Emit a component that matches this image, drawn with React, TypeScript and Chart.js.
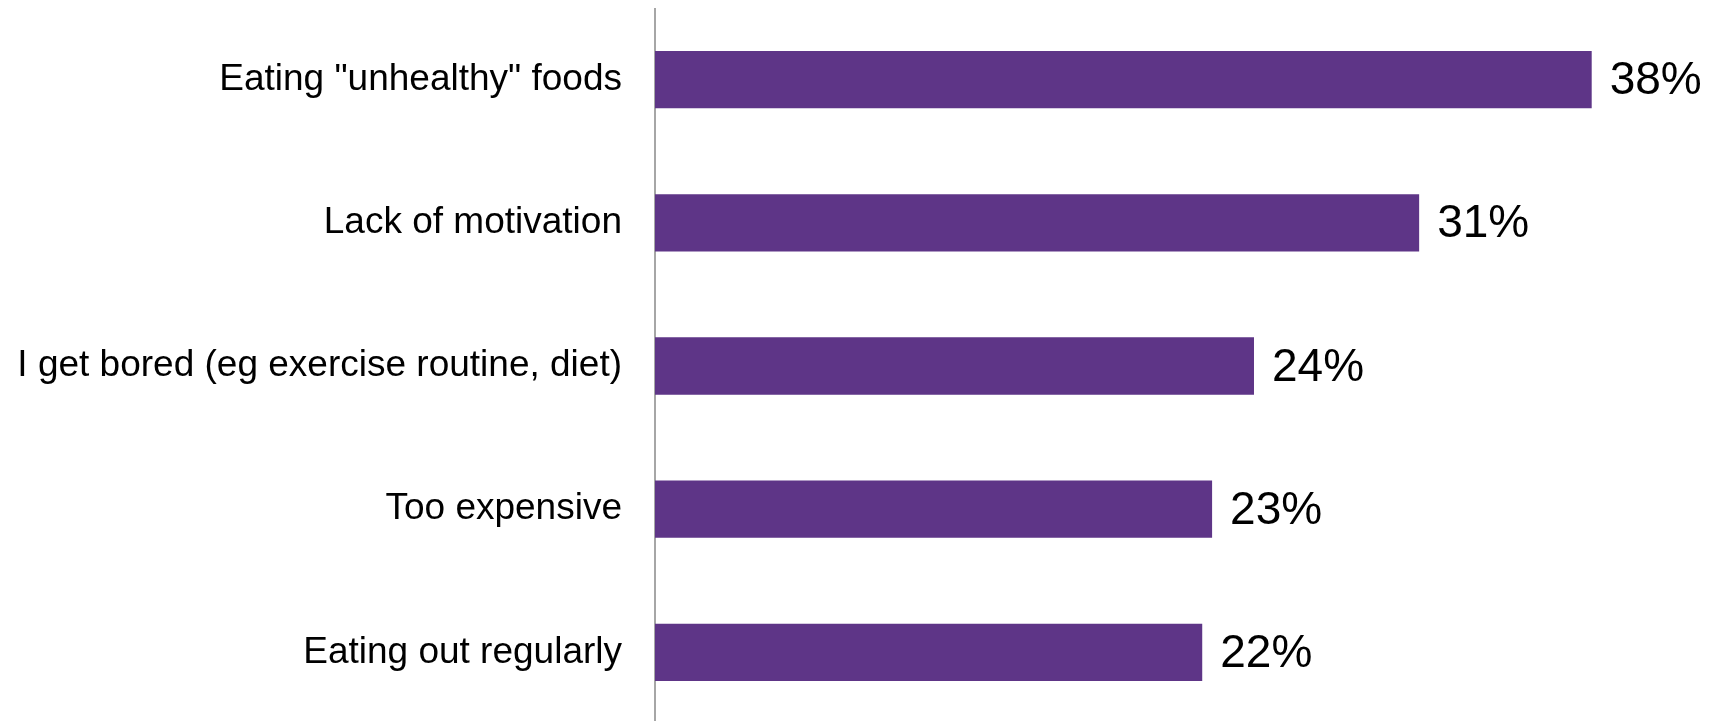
import React, { useEffect, useRef } from "react";
import { Chart, registerables } from "chart.js";

Chart.register(...registerables);

const categories = [
  'Eating "unhealthy" foods',
  "Lack of motivation",
  "I get bored (eg exercise routine, diet)",
  "Too expensive",
  "Eating out regularly",
];
const values = [38, 31, 24.3, 22.6, 22.2];
const valueLabels = ["38%", "31%", "24%", "23%", "22%"];

const FONT = "'Liberation Sans', Arial, sans-serif";

const valueLabelPlugin = {
  id: "valueLabels",
  afterDatasetsDraw(chart: any) {
    const ctx = chart.ctx;
    const meta = chart.getDatasetMeta(0);
    ctx.save();
    ctx.font = `46px ${FONT}`;
    ctx.fillStyle = "#000000";
    ctx.textAlign = "left";
    ctx.textBaseline = "middle";
    meta.data.forEach((bar: any, i: number) => {
      ctx.fillText(valueLabels[i], bar.x + 18, bar.y + 2);
    });
    ctx.restore();
  },
};

export default function App() {
  const ref = useRef<HTMLCanvasElement>(null);
  useEffect(() => {
    if (!ref.current) return;
    const chart = new Chart(ref.current, {
      type: "bar",
      data: {
        labels: categories,
        datasets: [
          {
            data: values,
            backgroundColor: "#5E3587",
            borderWidth: 0,
            barPercentage: 0.4,
            categoryPercentage: 1,
          },
        ],
      },
      options: {
        indexAxis: "y",
        animation: false,
        responsive: false,
        maintainAspectRatio: false,
        layout: { padding: { top: 0, bottom: 0, left: 0, right: 65 } },
        plugins: {
          legend: { display: false },
          tooltip: { enabled: false },
          title: { display: false },
        },
        scales: {
          x: {
            display: false,
            min: 0,
            max: 40,
          },
          y: {
            grid: { display: false, drawTicks: false },
            border: { display: true, color: "#a6a6a6", width: 2 },
            ticks: {
              color: "#000000",
              font: { family: FONT, size: 37 },
              padding: 33,
            },
            afterFit(scale: any) {
              scale.width = 647;
              scale.paddingTop = 0;
              scale.paddingBottom = 0;
            },
          },
        },
      },
      plugins: [valueLabelPlugin],
    });
    return () => chart.destroy();
  }, []);
  return (
    <div>
      <canvas ref={ref} width={1698} height={716} style={{ display: "block" }} />
    </div>
  );
}
